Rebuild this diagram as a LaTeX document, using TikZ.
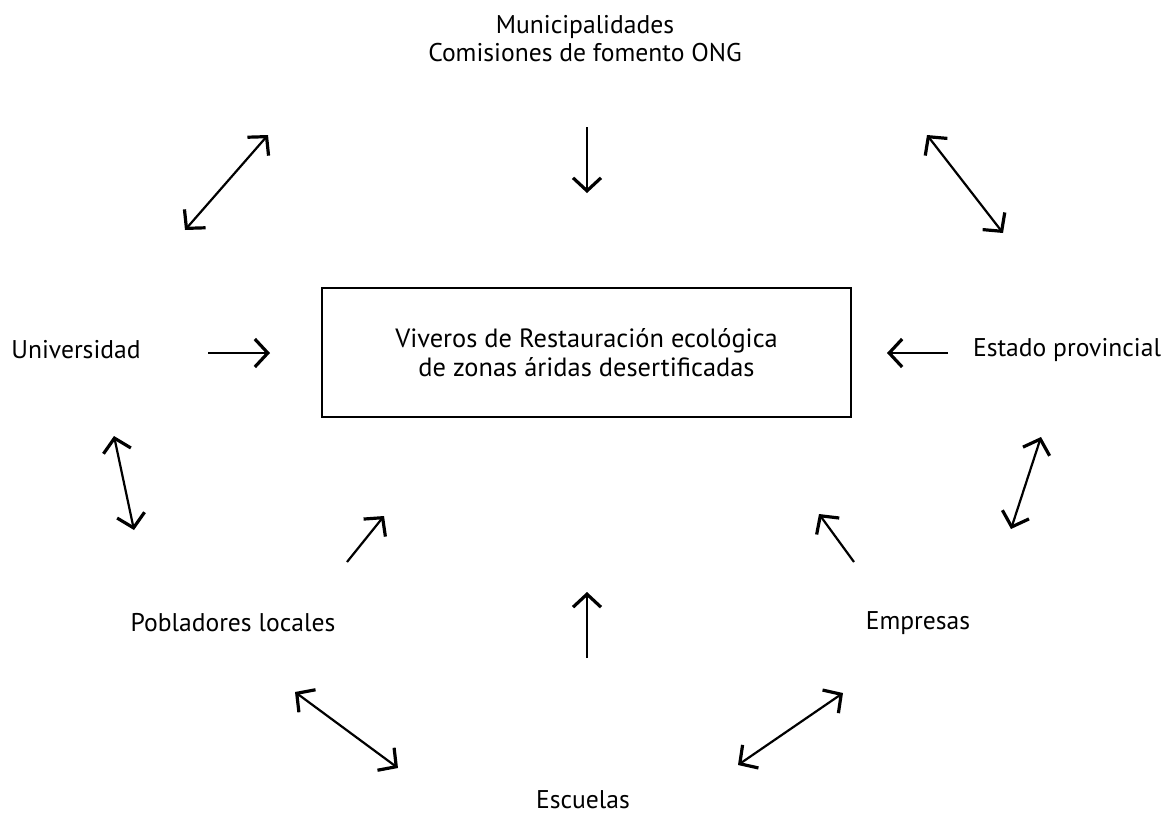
\documentclass[tikz,border=0pt]{standalone}
\usepackage{fontspec}
\setmainfont{PT Sans}
\usetikzlibrary{arrows.meta}

\begin{document}
\begin{tikzpicture}[x=0.5pt,y=-0.5pt,actor/.style={align=center,font=\fontsize{12.8}{14}\selectfont},main/.style={draw,line width=0.75pt,minimum width=264.5pt,minimum height=64.5pt,align=center,font=\fontsize{13.2}{14.5}\selectfont},link/.style={-{Straight Barb[length=6.5pt,width=14pt,line width=1.6pt]},line width=1.1pt},both/.style={{Straight Barb[length=6.5pt,width=14pt,line width=1.6pt]}-{Straight Barb[length=6.5pt,width=14pt,line width=1.6pt]},line width=1.1pt}]
\useasboundingbox (0,0) rectangle (1163,820);
\node[main] (viveros) at (586.5,352.5){Viveros de Restauración ecológica\\de zonas áridas desertificadas};
\node[actor] (municip) at (585,39){Municipalidades\\Comisiones de fomento ONG};
\node[actor] (univ) at (76,350){Universidad};
\node[actor] (estado) at (1067,350){Estado provincial};
\node[actor] (pobladores) at (233,623){Pobladores locales};
\node[actor] (empresas) at (918,623){Empresas};
\node[actor] (escuelas) at (583,800){Escuelas};
% arrow ends
\coordinate (mA) at (587,127);\coordinate (mB) at (587,193);
\coordinate (uA) at (208,353);\coordinate (uB) at (270,353);
\coordinate (eA) at (948,353);\coordinate (eB) at (887,353);
\coordinate (pA) at (347,562);\coordinate (pB) at (384,516);
\coordinate (kA) at (854,562);\coordinate (kB) at (819,514);
\coordinate (sA) at (587,658);\coordinate (sB) at (587,592);
\coordinate (umA) at (185,230);\coordinate (umB) at (268,135);
\coordinate (meA) at (927,135);\coordinate (meB) at (1003,233);
\coordinate (upA) at (114,436);\coordinate (upB) at (134,530);
\coordinate (ekA) at (1041,437);\coordinate (ekB) at (1011,529);
\coordinate (psA) at (295,692);\coordinate (psB) at (398,768);
\coordinate (ksA) at (843,693);\coordinate (ksB) at (738,765);
% towards the nurseries
\foreach \a/\b in {mA/mB,uA/uB,eA/eB,pA/pB,kA/kB,sA/sB}
  \draw[link] (\a) -- (\b);
% between the actors
\foreach \a/\b in {umA/umB,meA/meB,upA/upB,ekA/ekB,psA/psB,ksA/ksB}
  \draw[both] (\a) -- (\b);
\end{tikzpicture}
\end{document}
